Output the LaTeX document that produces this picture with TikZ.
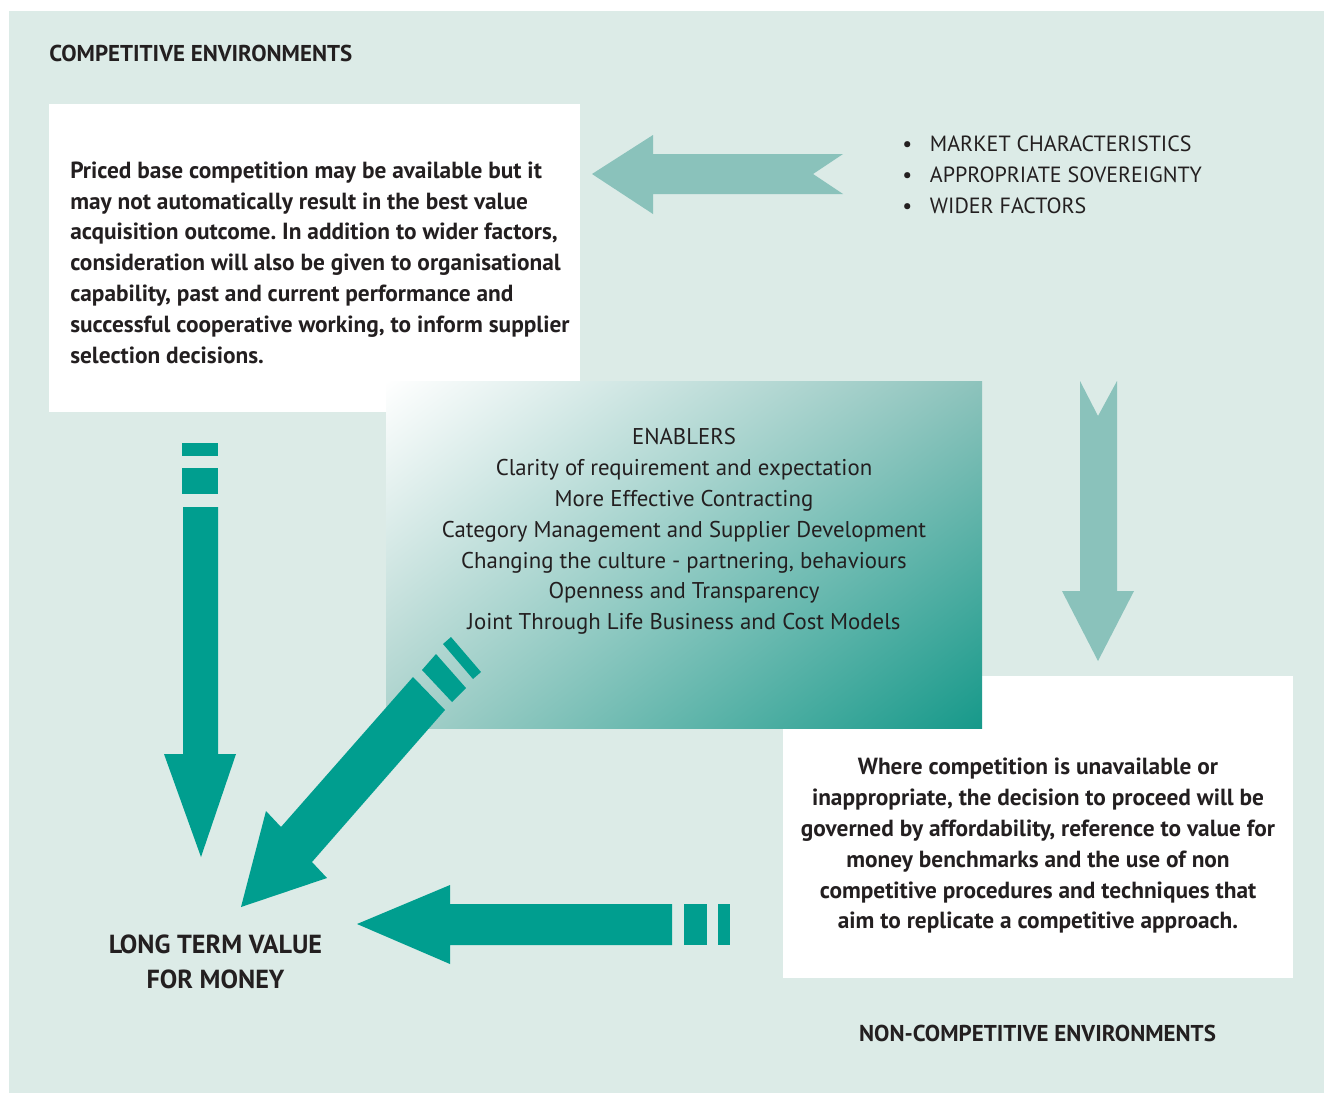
\documentclass[tikz,border=0pt]{standalone}
\usepackage{fontspec}
\setmainfont{PT Sans}
\usetikzlibrary{shadings}
\definecolor{panel}{HTML}{DCEBE7}
\definecolor{lightarr}{HTML}{8AC2BB}
\definecolor{darkarr}{HTML}{009E8F}
\definecolor{ink}{HTML}{231F20}
\definecolor{gradTR}{HTML}{8DC3BC}
\definecolor{gradBL}{HTML}{A9D1CB}
\definecolor{gradBR}{HTML}{16998A}
\newcommand{\bulitem}{\makebox[20.75pt][l]{\textbullet}}
\frenchspacing
\begin{document}
\begin{tikzpicture}[x=0.75pt,y=-0.75pt,
  whitebox/.style={fill=white,draw=none,inner sep=0pt},
  bodytext/.style={text=ink,font=\bfseries\fontsize{17.5}{23.1}\selectfont,inner sep=0pt},
  enabtext/.style={text=ink,font=\fontsize{17.1}{23.1}\selectfont,inner sep=0pt,align=center},
  headtext/.style={text=ink,font=\bfseries\fontsize{17.2}{20}\selectfont,inner sep=0pt},
  bultext/.style={text=ink,font=\fontsize{16.5}{23.25}\selectfont,inner sep=0pt,align=left},
  lightfill/.style={fill=lightarr,draw=none},
  darkfill/.style={fill=darkarr,draw=none}]
\useasboundingbox (0,0) rectangle (1324,1093);
\fill[white] (0,0) rectangle (1324,1093);
\fill[panel] (9,11) rectangle (1324,1093);

% white boxes
\node[whitebox,minimum width=398.25pt,minimum height=231pt] (box1) at (314.5,258) {};
\node[whitebox,minimum width=382.5pt,minimum height=226.5pt] (box2) at (1038,827) {};

% gradient box
\shade[upper left=white,upper right=gradTR,lower left=gradBL,lower right=gradBR]
  (386,381) rectangle (982,728);
\node[inner sep=0pt,minimum width=447pt,minimum height=260.25pt] (enab) at (684,554.5) {};

% texts
\node[headtext,anchor=west] (title1) at (49,53) {COMPETITIVE ENVIRONMENTS};
\node[headtext,anchor=center] (title2) at (1037.5,1033) {NON-COMPETITIVE ENVIRONMENTS};

\node[bodytext,anchor=west,align=left] (body1) at (70,262.5) {Priced base competition may be available but it\\
may not automatically result in the best value\\
acquisition outcome. In addition to wider factors,\\
consideration will also be given to organisational\\
capability, past and current performance and\\
successful cooperative working, to inform supplier\\
selection decisions.};

\node[bodytext,anchor=center,align=center] (body2) at (1038,846) {Where competition is unavailable or\\
inappropriate, the decision to proceed will be\\
governed by affordability, reference to value for\\
money benchmarks and the use of non\\
competitive procedures and techniques that\\
aim to replicate a competitive approach.};

\node[enabtext] (enabtxt) at (684,531.5) {ENABLERS\\
Clarity of requirement and expectation\\
More Effective Contracting\\
Category Management and Supplier Development\\
Changing the culture - partnering, behaviours\\
Openness and Transparency\\
Joint Through Life Business and Cost Models};

\node[bultext,anchor=west] (factors) at (902,175) {\bulitem MARKET CHARACTERISTICS\\
\bulitem APPROPRIATE SOVEREIGNTY\\
\bulitem WIDER FACTORS};

\node[text=ink,font=\bfseries\fontsize{19.6}{26.25}\selectfont,inner sep=0pt,align=center] (ltv) at (215.5,961.5) {LONG TERM VALUE\\FOR MONEY};

% top light arrow (left)
\fill[lightfill] (592,174) -- (653,135) -- (653,154) -- (843,154) -- (813,174) -- (843,194) -- (653,194) -- (653,214) -- cycle;
% right light arrow (down)
\fill[lightfill] (1080,381) -- (1098,416) -- (1117,381) -- (1117,591) -- (1134,591) -- (1098,661) -- (1062,591) -- (1080,591) -- cycle;

% left dark arrow (down)
\fill[darkfill] (182,443) rectangle (218,456);
\fill[darkfill] (182,468) rectangle (218,494);
\fill[darkfill] (183,507) -- (218,507) -- (218,754) -- (236,754) -- (201,857) -- (164,754) -- (183,754) -- cycle;

% diagonal dark arrow
\fill[darkfill] (443,644) -- (451,637) -- (481,672) -- (473,679) -- cycle;
\fill[darkfill] (422,670) -- (436,654) -- (466,688) -- (452,702) -- cycle;
\fill[darkfill] (413,677) -- (445,710) -- (312,862) -- (327,878) -- (241,907) -- (266,811) -- (281,827) -- cycle;

% bottom dark arrow (left)
\fill[darkfill] (718,904) rectangle (730,945);
\fill[darkfill] (684,904) rectangle (707,945);
\fill[darkfill] (357,924) -- (450,885) -- (450,904) -- (672,904) -- (672,945) -- (450,945) -- (450,964) -- cycle;
\end{tikzpicture}
\end{document}
